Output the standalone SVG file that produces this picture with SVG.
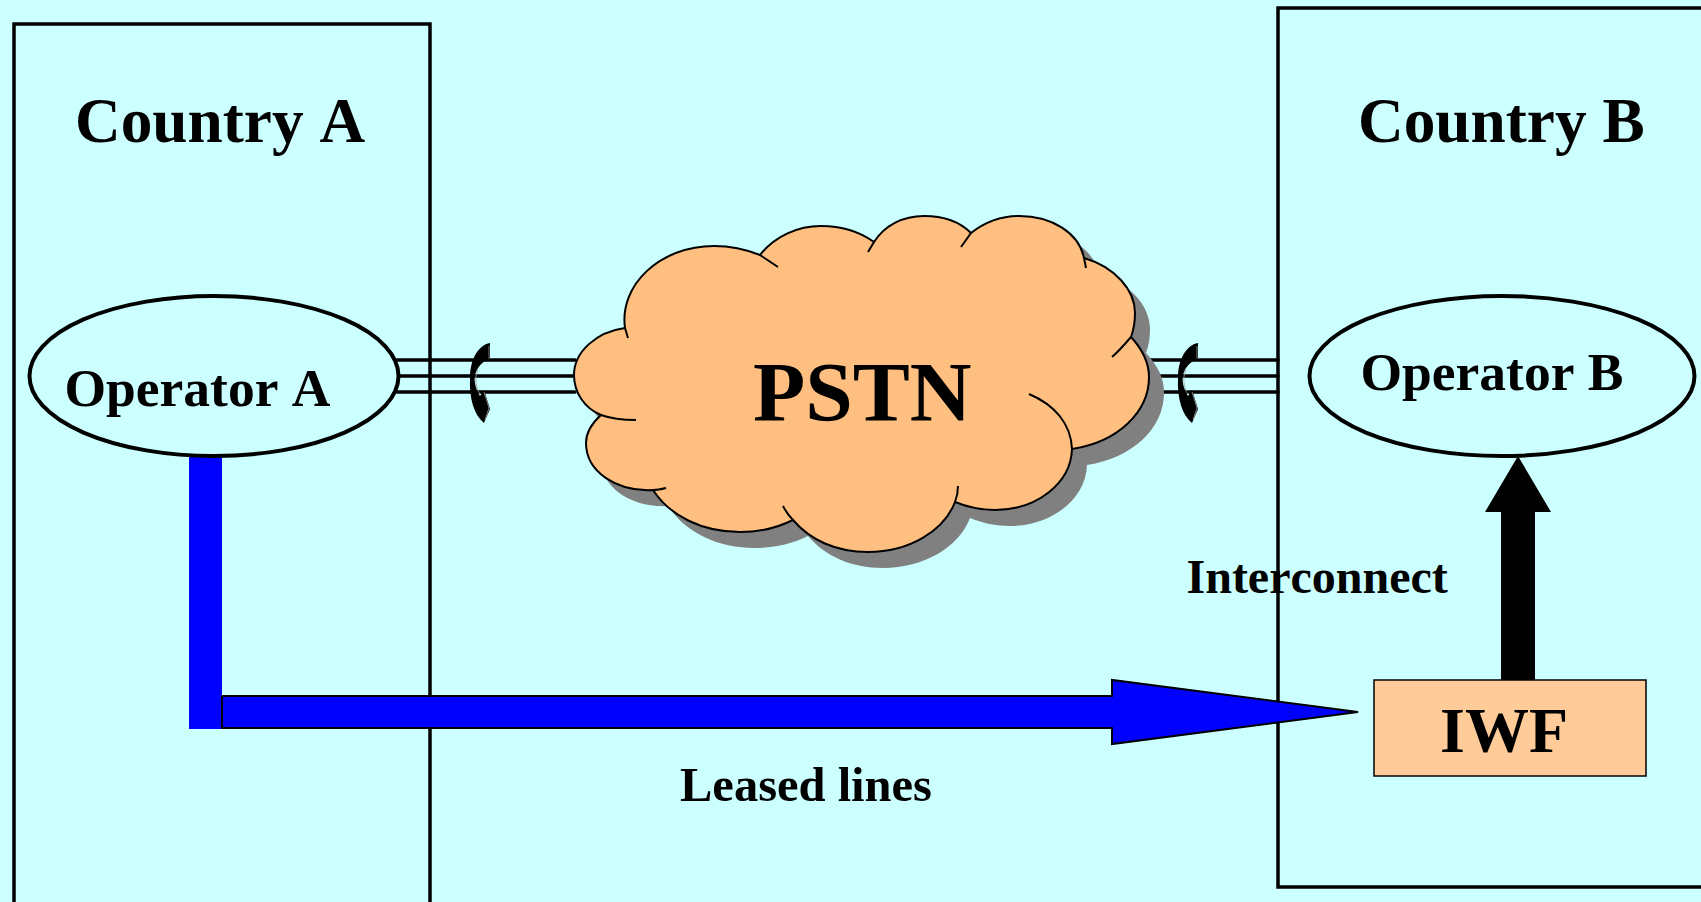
<svg xmlns="http://www.w3.org/2000/svg" width="1701" height="902" viewBox="0 0 1701 902">
<style>
text{font-family:"Liberation Serif","Times New Roman",serif;font-weight:700;fill:#000;font-kerning:none}
.box{fill:none;stroke:#000;stroke-width:3.5}
.oval{fill:#CCFFFF;stroke:#000;stroke-width:4}
.wire{stroke:#000;stroke-width:3.5;stroke-linecap:round}
.glint{fill:none;stroke:#9a9a9a;stroke-width:.8}
</style>
<defs>
<path id="cloud" d="M625,328C619,285 660,246 714,246C730,246 745,249 760,255C775,236 798,226 821,226C842,226 860,232 874,242C885,225 903,216 924,216C944,216 960,222 971,233C985,222 1000,216 1019,216C1052,216 1079,233 1084,258C1115,267 1135,290 1135,313C1135,321 1134,329 1131,337C1143,350 1149,362 1149,377C1149,412 1118,442 1072,449C1071,483 1037,510 995,510C981,510 967,507 955,502C944,531 909,552 868,552C836,552 810,540 793,520C777,528 759,532 740,532C702,532 670,516 653,490C617,492 586,472 586,443C586,433 591,424 601,415C584,408 574,392 574,375C574,352 596,332 625,328Z"/>
<path id="phone" d="M490,343C478,345 470,360 470,378C469,398 474,415 484,423L490,409L484,390L480,396C475,388 473,378 476,372C479,365 484,360 490,360Z"/>
<path id="phone-line" d="M489,346V359M478,370C474,378 476,388 480,394M484,392L489,408L485,420"/>
</defs>
<rect width="1701" height="902" fill="#CCFFFF"/>
<g id="country-a"><path class="box" d="M14,904V24H430V904"/><text x="75" y="142" font-size="63.3">Country A</text></g>
<g id="country-b"><path class="box" d="M1703,8H1278V887H1703"/><text x="1358" y="142" font-size="63.3">Country B</text></g>
<g id="connectors">
<path class="wire" d="M397,360H575M397,376H575M397,392H575M1148,360H1278M1148,376H1278M1148,392H1278"/>
<use href="#phone" fill="#000"/>
<use href="#phone-line" class="glint"/>
<use href="#phone" fill="#000" x="708"/>
<use href="#phone-line" class="glint" x="708"/>
<rect x="189" y="456" width="33" height="273" fill="#0000FF"/>
<path d="M222,696H1112V680L1358,712L1112,744V728H222Z" fill="#0000FF" stroke="#000" stroke-width="2"/>
<path d="M1501,680V512H1485L1518,456L1551,512H1535V680Z" fill="#000"/>
</g>
<g id="pstn">
<use href="#cloud" x="15" y="16" fill="#808080"/>
<use href="#cloud" fill="#FFBF80" stroke="#000" stroke-width="2"/>
<path fill="none" stroke="#000" stroke-width="2" d="M625,328L628,338M760,255L778,267M874,242L868,252M971,233L961,247M1084,258L1086,268M1131,337C1125,344 1119,351 1112,357M1072,449C1071,424 1055,405 1029,394M958,486C958,491 957,497 955,502M793,520C788,515 785,510 783,506M653,490C658,490 662,489 666,488M601,415C612,419 624,420 636,420"/>
<text x="753" y="421" font-size="85.5">PSTN</text>
</g>
<g id="operator-a"><ellipse class="oval" cx="214" cy="376" rx="184.5" ry="80"/><text x="64.5" y="406" font-size="53.5">Operator A</text></g>
<g id="operator-b"><ellipse class="oval" cx="1502" cy="376" rx="192.5" ry="80"/><text x="1360.5" y="390" font-size="53.5">Operator B</text></g>
<g id="iwf"><rect x="1374" y="680" width="272" height="96" fill="#FFCC99" stroke="#000" stroke-width="1.5"/><text x="1440" y="752" font-size="64">IWF</text></g>
<text x="1186.5" y="593" font-size="48">Interconnect</text>
<text x="680" y="801" font-size="48.5">Leased lines</text>
</svg>
